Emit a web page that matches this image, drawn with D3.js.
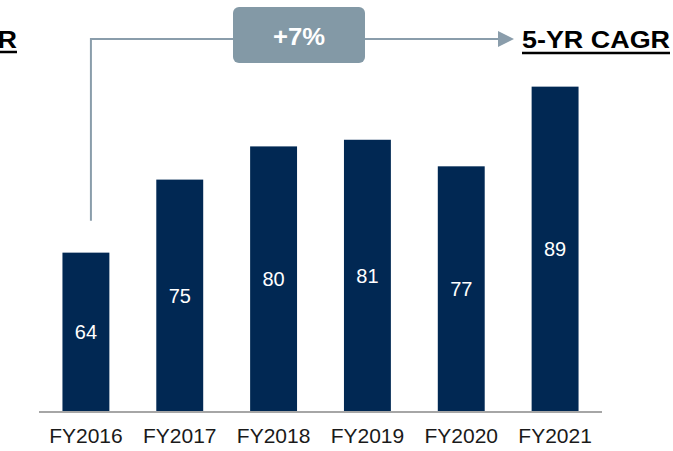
<!DOCTYPE html>
<html>
<head>
<meta charset="utf-8">
<script src="https://cdn.jsdelivr.net/npm/d3@7"></script>
<style>
  html, body { margin: 0; padding: 0; background: #ffffff; }
  svg { display: block; font-family: Arial, "Liberation Sans", Helvetica, sans-serif; }
</style>
</head>
<body>
<div id="chart"></div>
<script>
const categories = ["FY2016", "FY2017", "FY2018", "FY2019", "FY2020", "FY2021"];
const values = [64, 75, 80, 81, 77, 89];
const cagrLabel = "+7%";
const titleLabel = "5-YR CAGR";

const W = 673, H = 451;
const svg = d3.select("#chart").append("svg").attr("width", W).attr("height", H);

const x = d3.scaleBand().domain(categories).range([39, 602]).paddingInner(0.5).paddingOuter(0.25);
const y = d3.scaleLinear().domain([40, 100]).range([412, 13.6]);

const navy = "#012853";
const grey = "#8a9dab";

// bars
svg.selectAll("rect.bar").data(values).join("rect")
  .attr("class", "bar")
  .attr("x", (d, i) => x(categories[i]))
  .attr("width", x.bandwidth())
  .attr("y", d => y(d))
  .attr("height", d => y(40) - y(d))
  .attr("fill", navy);

// value labels
svg.selectAll("text.val").data(values).join("text")
  .attr("class", "val")
  .attr("x", (d, i) => x(categories[i]) + x.bandwidth() / 2)
  .attr("y", d => (y(d) + y(40)) / 2 + 7)
  .attr("text-anchor", "middle")
  .attr("fill", "#ffffff")
  .attr("font-size", 20)
  .text(d => d);

// x axis
const xAxis = d3.axisBottom(x).tickSize(0).tickPadding(0);
const gx = svg.append("g").attr("transform", "translate(0,412)").call(xAxis);
gx.select(".domain").attr("stroke", "#a6a6a6").attr("stroke-width", 2).attr("d", "M39,0H602");
gx.selectAll(".tick text")
  .attr("y", 31)
  .attr("dy", null)
  .attr("font-size", 21)
  .attr("font-family", "Arial, 'Liberation Sans', sans-serif")
  .attr("fill", "#1a1a1a");

// CAGR connector
const x0 = x(categories[0]) + x.bandwidth() / 2 + 5;
const lineY = 39;
svg.append("path")
  .attr("d", `M${x0},${y(values[0]) - 32}V${lineY}H233`)
  .attr("fill", "none").attr("stroke", grey).attr("stroke-width", 2);
svg.append("line")
  .attr("x1", 365).attr("x2", 500).attr("y1", lineY).attr("y2", lineY)
  .attr("stroke", grey).attr("stroke-width", 2);
svg.append("path")
  .attr("d", `M498,${lineY - 8}L514,${lineY}L498,${lineY + 8}Z`)
  .attr("fill", grey);

// box
svg.append("rect")
  .attr("x", 233).attr("y", 7).attr("width", 132).attr("height", 56)
  .attr("rx", 6).attr("fill", "#8399a6");
svg.append("text")
  .attr("x", 273).attr("y", 45)
  .attr("fill", "#ffffff").attr("font-weight", "bold").attr("font-size", 23)
  .attr("textLength", 52).attr("lengthAdjust", "spacingAndGlyphs")
  .text(cagrLabel);

// title right
svg.append("text")
  .attr("x", 522).attr("y", 48)
  .attr("fill", "#000000").attr("font-weight", "bold").attr("font-size", 23)
  .attr("textLength", 148).attr("lengthAdjust", "spacingAndGlyphs")
  .text(titleLabel);
svg.append("line")
  .attr("x1", 522).attr("x2", 670).attr("y1", 53).attr("y2", 53)
  .attr("stroke", "#000000").attr("stroke-width", 2.5);

// title left (cut off at the edge, as in the source)
svg.append("text")
  .attr("x", -131).attr("y", 48)
  .attr("fill", "#000000").attr("font-weight", "bold").attr("font-size", 23)
  .attr("textLength", 148).attr("lengthAdjust", "spacingAndGlyphs")
  .text(titleLabel);
svg.append("line")
  .attr("x1", 0).attr("x2", 17).attr("y1", 52).attr("y2", 52)
  .attr("stroke", "#000000").attr("stroke-width", 2.5);
</script>
</body>
</html>
